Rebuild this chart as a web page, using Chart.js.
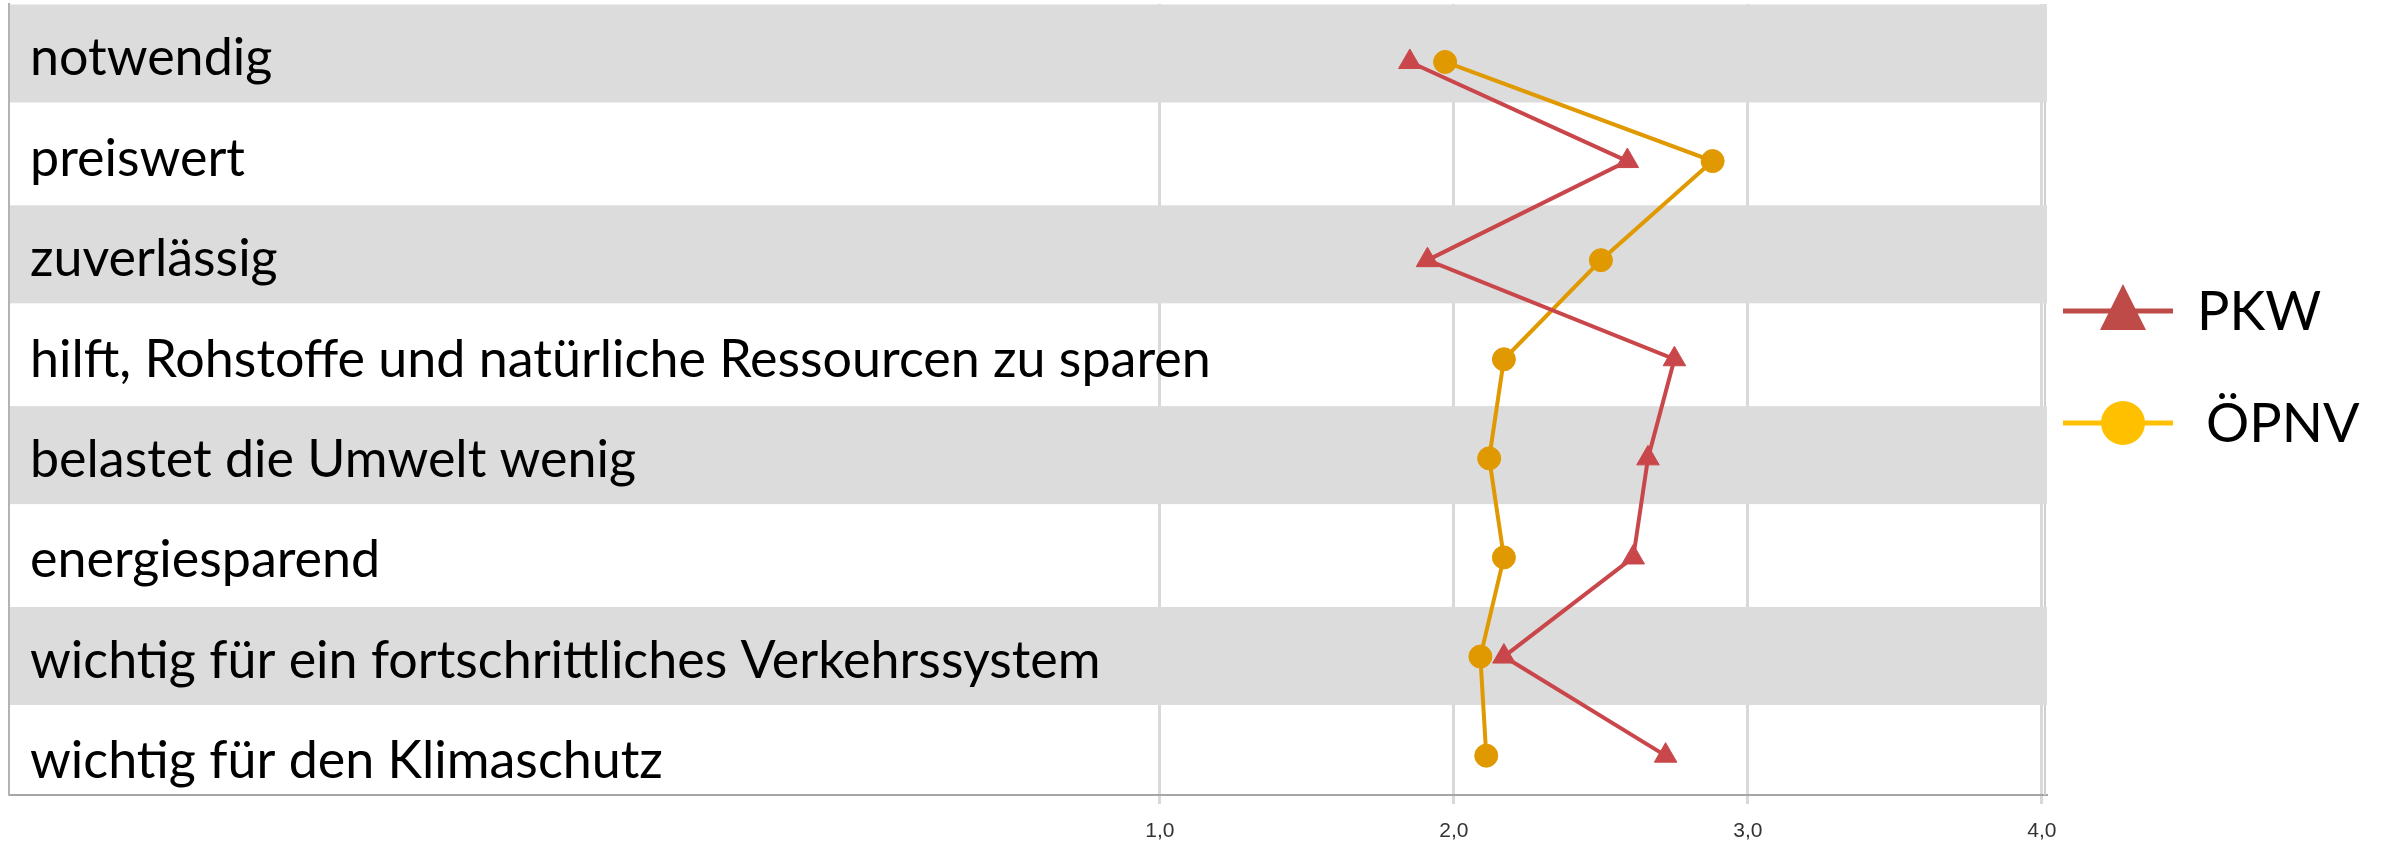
<!DOCTYPE html>
<html><head><meta charset="utf-8">
<script src="https://cdn.jsdelivr.net/npm/chart.js@4.4.1/dist/chart.umd.min.js"></script>
<style>html,body{margin:0;padding:0;background:#fff;overflow:hidden}#wrap{width:2381px;height:845px}</style>
</head><body><div id="wrap"><canvas id="c" width="2381" height="845"></canvas></div>
<script>
const categories = [
  "notwendig",
  "preiswert",
  "zuverlässig",
  "hilft, Rohstoffe und natürliche Ressourcen zu sparen",
  "belastet die Umwelt wenig",
  "energiesparend",
  "wichtig für ein fortschrittliches Verkehrssystem",
  "wichtig für den Klimaschutz"
];
const pkwValues   = [1.85, 2.59, 1.91, 2.75, 2.66, 2.61, 2.17, 2.72];
const oepnvValues = [1.97, 2.88, 2.50, 2.17, 2.12, 2.17, 2.09, 2.11];
const xTickValues = [1, 2, 3, 4];
const seriesNames = ["PKW", "ÖPNV"];

const LABEL_FONT = 'Lato';
const COL_PKW = '#C9474A', COL_PKW_LEG = '#BE4B48';
const COL_OEP = '#E09900', COL_OEP_LEG = '#FFC000';

const bandPlugin = {
  id: 'bands',
  beforeDatasetsDraw(chart) {
    const {ctx, chartArea} = chart;
    const yb = chart.scales.yBand;
    ctx.save();
    ctx.strokeStyle = '#cfcfcf'; ctx.lineWidth = 2;
    ctx.beginPath(); ctx.moveTo(chartArea.right - 1, chartArea.top); ctx.lineTo(chartArea.right - 1, chartArea.bottom); ctx.stroke();
    ctx.fillStyle = '#DCDCDC';
    categories.forEach((c, i) => {
      if (i % 2 !== 0) return;
      const t = Math.max(yb.getPixelForValue(i - 0.488), chartArea.top);
      const b = yb.getPixelForValue(i + 0.488);
      ctx.fillRect(chartArea.left, t, chartArea.right - chartArea.left + 1, b - t);
    });
    ctx.restore();
  }
};

const legendPlugin = {
  id: 'customLegend',
  afterDraw(chart) {
    const {ctx, chartArea} = chart;
    const x0 = chartArea.right + 17;
    const items = [
      {name: seriesNames[0], color: COL_PKW_LEG, y: 311, style: 'triangle', tx: x0 + 134},
      {name: seriesNames[1], color: COL_OEP_LEG, y: 423, style: 'circle', tx: x0 + 143}
    ];
    ctx.save();
    items.forEach(it => {
      ctx.strokeStyle = it.color; ctx.fillStyle = it.color; ctx.lineWidth = 5;
      ctx.beginPath(); ctx.moveTo(x0, it.y); ctx.lineTo(x0 + 110, it.y); ctx.stroke();
      const cx = x0 + 60;
      ctx.beginPath();
      if (it.style === 'triangle') {
        ctx.moveTo(cx, it.y - 27); ctx.lineTo(cx + 23, it.y + 19); ctx.lineTo(cx - 23, it.y + 19); ctx.closePath();
      } else {
        ctx.arc(cx, it.y, 22, 0, Math.PI * 2);
      }
      ctx.fill();
      ctx.fillStyle = '#000';
      ctx.font = '54px ' + LABEL_FONT;
      ctx.textBaseline = 'middle';
      ctx.textAlign = 'left';
      ctx.fillText(it.name, it.tx, it.y + 2);
    });
    ctx.restore();
  }
};

new Chart(document.getElementById('c'), {
  type: 'scatter',
  data: {
    datasets: [
      {
        label: seriesNames[0],
        data: pkwValues.map((v, i) => ({x: v, y: i})),
        showLine: true, borderColor: COL_PKW, backgroundColor: COL_PKW,
        borderWidth: 4, pointStyle: 'triangle', pointRadius: 13,
        pointBorderWidth: 1, pointBorderColor: COL_PKW, pointBackgroundColor: COL_PKW,
        yAxisID: 'yPts', tension: 0
      },
      {
        label: seriesNames[1],
        data: oepnvValues.map((v, i) => ({x: v, y: i})),
        showLine: true, borderColor: COL_OEP, backgroundColor: COL_OEP,
        borderWidth: 4, pointStyle: 'circle', pointRadius: 11.5,
        pointBorderWidth: 1, pointBorderColor: COL_OEP, pointBackgroundColor: COL_OEP,
        yAxisID: 'yPts', tension: 0
      }
    ]
  },
  options: {
    responsive: false, animation: false, devicePixelRatio: 1,
    layout: {autoPadding: false, padding: {left: 9, right: 335, top: 4, bottom: 1}},
    plugins: {legend: {display: false}, tooltip: {enabled: false}},
    scales: {
      x: {
        type: 'linear', min: -2.915, max: 4.014,
        afterBuildTicks: s => { s.ticks = xTickValues.map(v => ({value: v})); },
        afterFit: s => { s.paddingLeft = 0; s.paddingRight = 0; s.height = 49; },
        ticks: {
          callback: v => v.toFixed(1).replace('.', ','),
          font: {family: 'Liberation Sans', size: 21}, color: '#333', padding: 15, maxRotation: 0
        },
        grid: {color: '#D9D9D9', lineWidth: 3, tickLength: 9, drawTicks: true},
        border: {color: '#A6A6A6', width: 2}
      },
      yPts: {
        type: 'linear', reverse: true, min: -0.585, max: 7.397, display: false
      },
      yBand: {
        type: 'linear', position: 'left', reverse: true, min: -0.493, max: 7.385,
        afterBuildTicks: s => { s.ticks = categories.map((c, i) => ({value: i + 0.05})); },
        afterFit: s => { s.width = 0; s.paddingTop = 0; s.paddingBottom = 0; },
        ticks: {
          mirror: true, padding: 21, z: 1,
          callback: (v, i) => categories[i],
          font: {family: LABEL_FONT, size: 52}, color: '#000'
        },
        grid: {display: false},
        border: {display: true, color: '#B3B3B3', width: 2, z: 1}
      }
    }
  },
  plugins: [bandPlugin, legendPlugin]
});
</script>
</body></html>
